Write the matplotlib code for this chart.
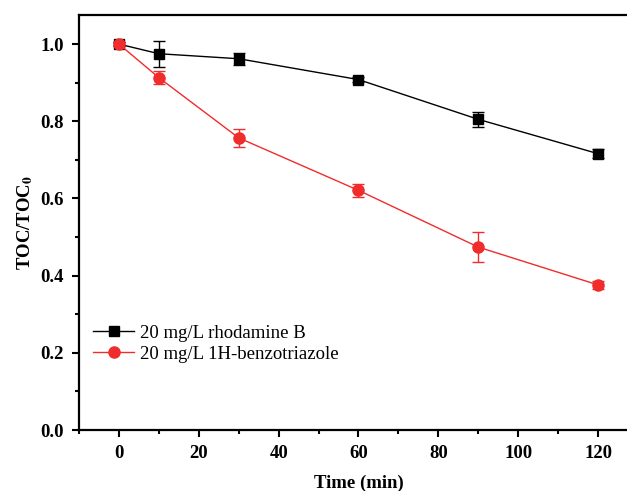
import matplotlib
matplotlib.use('Agg')
import matplotlib.pyplot as plt
from matplotlib.ticker import MultipleLocator

time_min = [0, 10, 30, 60, 90, 120]

rhb = [1.0, 0.975, 0.962, 0.908, 0.805, 0.716]
rhb_err = [0.005, 0.034, 0.015, 0.006, 0.019, 0.011]

btz = [1.0, 0.913, 0.757, 0.621, 0.474, 0.376]
btz_err = [0.005, 0.017, 0.024, 0.016, 0.039, 0.011]

plt.rcParams['font.family'] = ['Liberation Serif', 'DejaVu Serif']
plt.rcParams['mathtext.fontset'] = 'stix'

fig = plt.figure(figsize=(6.27, 4.91), dpi=100)
ax = fig.add_axes([0.126, 0.1242, 0.8915, 0.845])

# error bars first, then lines with markers (legend uses the lines only)
ax.errorbar(time_min, rhb, yerr=rhb_err, fmt='none', ecolor='black',
            elinewidth=1, capsize=4, capthick=1)
ax.errorbar(time_min, btz, yerr=btz_err, fmt='none', ecolor='#f02c2c',
            elinewidth=1, capsize=4, capthick=1)
ax.plot(time_min, rhb, color='black', marker='s', markersize=7, linewidth=1,
        label='20 mg/L rhodamine B')
ax.plot(time_min, btz, color='#f02c2c', marker='o', markersize=8, linewidth=1,
        label='20 mg/L 1H-benzotriazole')

ax.set_xlim(-10, 130)
ax.set_ylim(0, 1.075)
ax.xaxis.set_major_locator(MultipleLocator(20))
ax.xaxis.set_minor_locator(MultipleLocator(10))
ax.yaxis.set_major_locator(MultipleLocator(0.2))
ax.yaxis.set_minor_locator(MultipleLocator(0.1))
ax.tick_params(which='major', direction='out', length=5, width=1.5, labelsize=13.5, pad=6)
ax.tick_params(which='minor', direction='out', length=3, width=1.5)
for lab in ax.get_xticklabels() + ax.get_yticklabels():
    lab.set_fontweight('bold')
for s in ax.spines.values():
    s.set_linewidth(1.6)

ax.set_xlabel('Time (min)', fontsize=13.5, fontweight='bold', labelpad=9)
ax.set_ylabel(r'TOC/TOC$_\mathbf{0}$', fontsize=13.5, fontweight='bold', labelpad=4)

ax.legend(loc='lower left', bbox_to_anchor=(-0.005, 0.122), frameon=False, fontsize=13.5,
          handlelength=2.2, handletextpad=0.3, labelspacing=0.2)

fig.savefig('out.png', dpi=100)
